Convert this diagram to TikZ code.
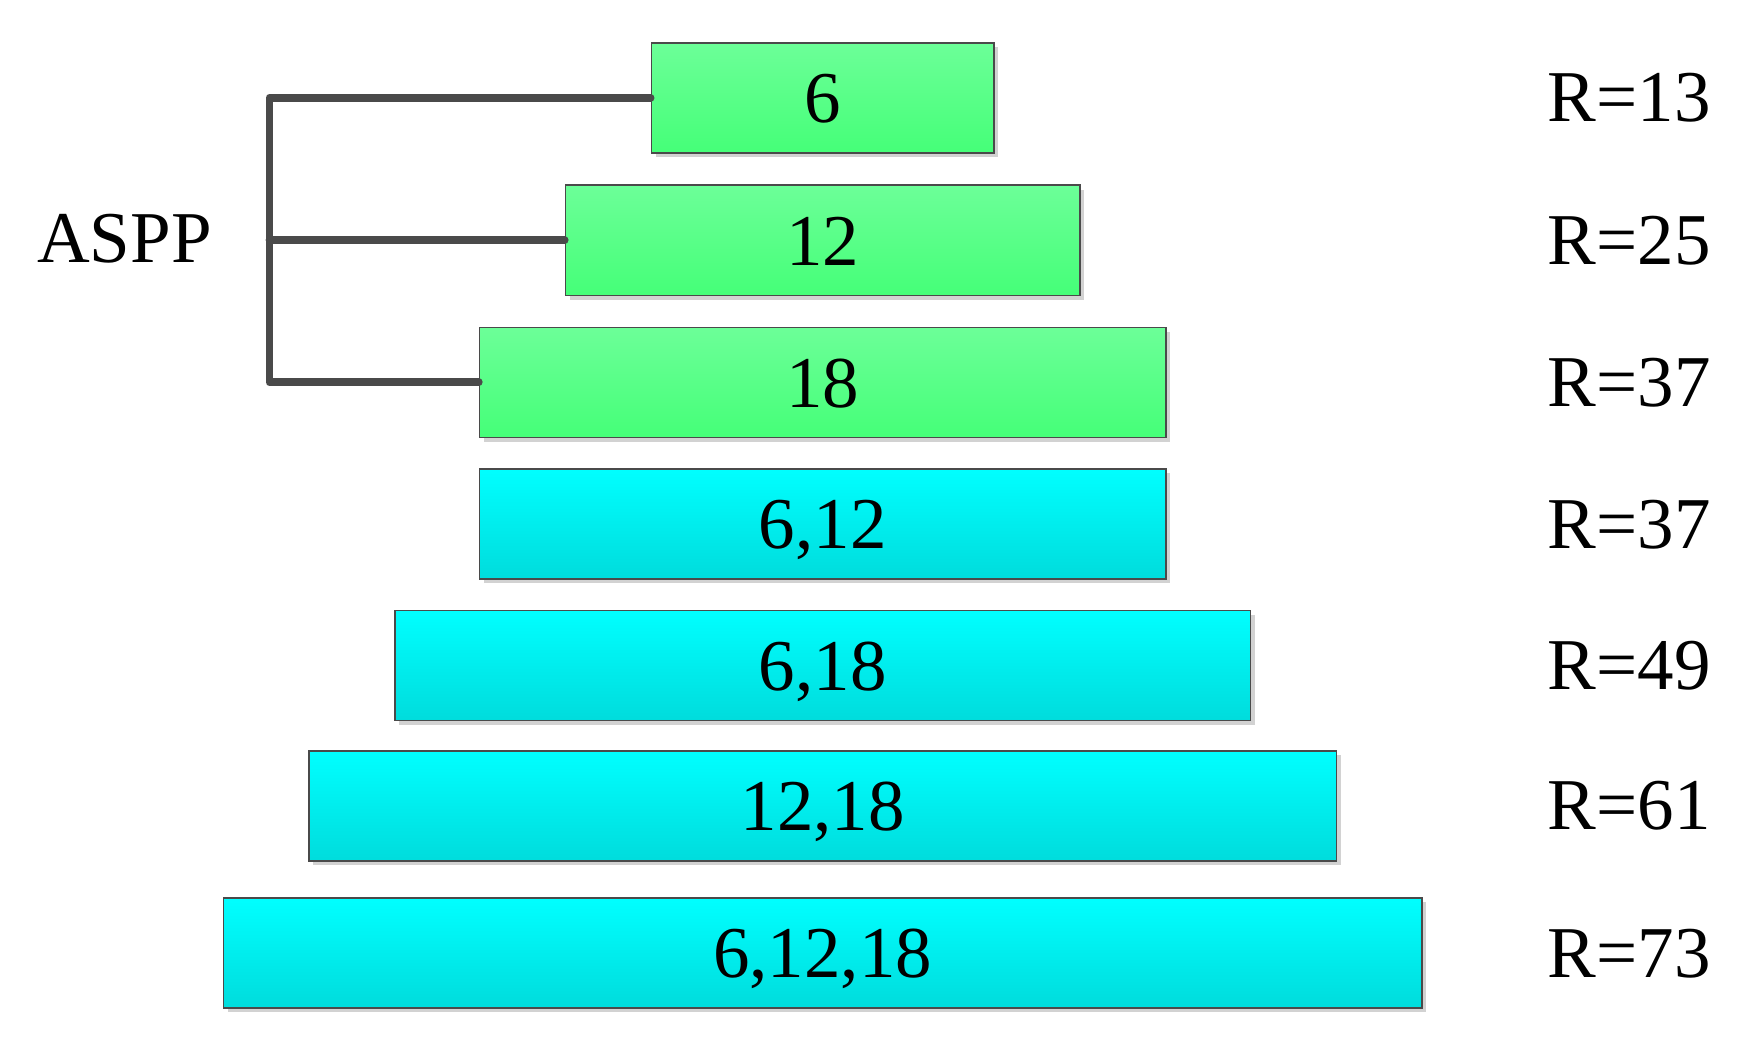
\documentclass[tikz,border=0pt]{standalone}
\usepackage{fontspec}
\setmainfont{Liberation Serif}
\usetikzlibrary{shadows}

\definecolor{greenTop}{HTML}{6CFF98}
\definecolor{greenBot}{HTML}{45FF78}
\definecolor{cyanTop}{HTML}{00FFFF}
\definecolor{cyanBot}{HTML}{00DCDC}
\definecolor{edgeGray}{HTML}{4A4A4A}

\begin{document}
\begin{tikzpicture}
[x=1pt,y=-1pt,
  boxDecorate/.style={shape=rectangle,draw=edgeGray,line width=1.5pt,
    minimum height=98pt,inner sep=0pt,text height=44pt,text depth=0pt,
    font=\fontsize{65}{78}\selectfont,
    drop shadow={shadow xshift=4pt,shadow yshift=-4pt,fill=black!35,opacity=0.5}},
  greenDecorate/.style={boxDecorate,top color=greenTop,bottom color=greenBot},
  cyanDecorate/.style={boxDecorate,top color=cyanTop,bottom color=cyanBot},
  labelDecorate/.style={anchor=west,inner sep=0pt,text height=43pt,text depth=0pt,
    font=\fontsize{65}{78}\selectfont},
  lineDecorate/.style={-,line width=7pt,draw=edgeGray,line cap=round,line join=round}]
\useasboundingbox (0,0) rectangle (1568,935);
%% rate boxes
\foreach \nodename/\y/\w/\rates/\kind/\field in {
    b1/87/305/6/green/13, b2/214/458/12/green/25, b3/340.5/611/18/green/37,
    b4/466.5/611/{6,12}/cyan/37, b5/592.5/762/{6,18}/cyan/49,
    b6/717.5/915/{12,18}/cyan/61, b7/848.5/1067/{6,12,18}/cyan/73} {
  \node (\nodename) at (732.5,\y) [\kind Decorate,minimum width=\w pt] {\rates};
  \node (r\nodename) at (1378,\y) [labelDecorate] {R=\field};
}
%% ASPP bracket
\node (aspp) at (33,212.5) [labelDecorate] {ASPP};
\coordinate (bk) at (240,0);
\draw[lineDecorate] (b1.west) -- (b1.west -| bk) -- (b3.west -| bk) -- (b3.west);
\draw[lineDecorate] (b2.west) -- (b2.west -| bk);
\end{tikzpicture}
\end{document}
